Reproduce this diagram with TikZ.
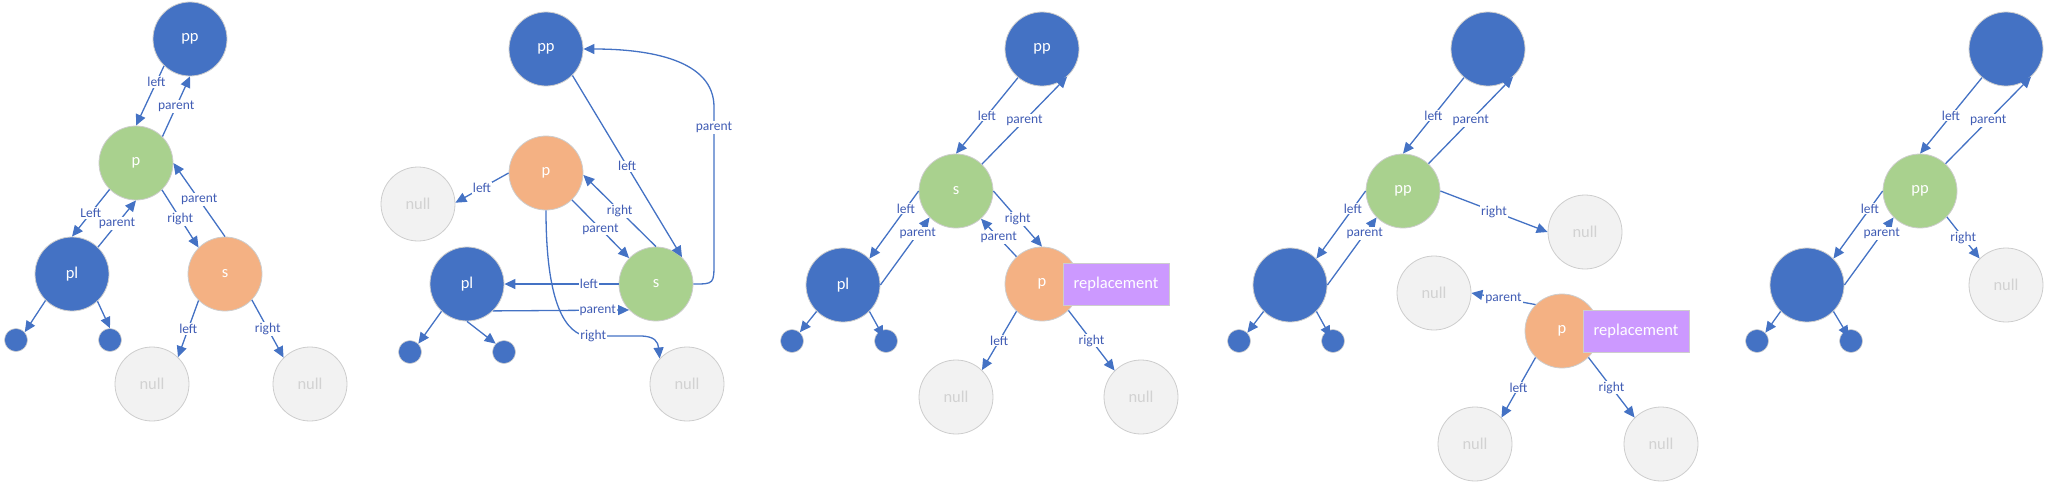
\documentclass[tikz,border=0pt]{standalone}
\usepackage{fontspec}
\setmainfont{Carlito}
\usetikzlibrary{arrows.meta}
\definecolor{nblue}{RGB}{68,114,196}
\definecolor{ngreen}{RGB}{169,209,142}
\definecolor{norange}{RGB}{244,177,131}
\definecolor{nnull}{RGB}{242,242,242}
\definecolor{nnulltext}{RGB}{210,210,210}
\definecolor{nborder}{RGB}{205,205,205}
\definecolor{npurple}{RGB}{204,153,255}
\definecolor{edgec}{RGB}{68,114,196}
\definecolor{labc}{RGB}{64,92,180}
\tikzset{
 tnode/.style={circle, minimum size=74pt, inner sep=0pt, draw=nborder, line width=0.8pt, font=\fontsize{16.5}{16.5}\selectfont, text=white},
 bluen/.style={tnode, fill=nblue},
 greenn/.style={tnode, fill=ngreen},
 orangen/.style={tnode, fill=norange},
 nulln/.style={tnode, fill=nnull, text=nnulltext},
 dotn/.style={circle, minimum size=23pt, inner sep=0pt, fill=nblue, draw=nborder, line width=0.6pt},
 repl/.style={rectangle, minimum width=106pt, minimum height=42pt, inner sep=0pt, fill=npurple, draw=nborder, line width=0.8pt, text=white, font=\fontsize{16.5}{16.5}\selectfont},
 arr/.style={draw=edgec, line width=1.3pt, -{Triangle[length=11pt,width=10pt]}},
 tear/.style={arr, shorten >=-7pt},
 lab/.style={fill=white, inner sep=1pt, text=labc, font=\fontsize{13.5}{13.5}\selectfont},
}
\begin{document}
\begin{tikzpicture}[x=1pt,y=-1pt]
\useasboundingbox (0,0) rectangle (2048,483);
% ---------- Panel A ----------
\node[bluen] (App) at (190,39) {pp};
\node[greenn] (Ap) at (136,163) {p};
\node[bluen] (Apl) at (72,274) {pl};
\node[orangen] (As) at (225,274) {s};
\node[dotn] (Ad1) at (16,340) {};
\node[dotn] (Ad2) at (110,340) {};
\node[nulln] (An1) at (152,384) {null};
\node[nulln] (An2) at (310,384) {null};
\draw[arr] (App.226) -- (Ap.90) node[lab,pos=.27]{left};
\draw[arr] (Ap.45) -- (App.270) node[lab,pos=.5]{parent};
\draw[arr] (Ap.225) -- (Apl.90) node[lab,pos=.5]{Left};
\draw[arr] (Apl.46) -- (Ap.270) node[lab,pos=.5]{parent};
\draw[arr] (Ap.314) -- (As.135) node[lab,pos=.5]{right};
\draw[arr] (As.90) -- (Ap.0) node[lab,pos=.5]{parent};
\draw[arr] (Apl.225) -- (Ad1.42);
\draw[arr] (Apl.313) -- (Ad2.90);
\draw[arr] (As.225) -- (An1.46) node[lab,pos=.5]{left};
\draw[arr] (As.316) -- (An2.135) node[lab,pos=.5]{right};
% ---------- Panel B ----------
\node[bluen] (Bpp) at (546,49) {pp};
\node[orangen] (Bp) at (546,173) {p};
\node[nulln] (Bnl) at (418,204) {null};
\node[bluen] (Bpl) at (467,284) {pl};
\node[greenn] (Bs) at (656,284) {s};
\node[dotn] (Bd1) at (410,352) {};
\node[dotn] (Bd2) at (504,352) {};
\node[nulln] (Bnb) at (687,384) {null};
\draw[arr] (Bpp.315) -- (Bs.46) node[lab,pos=.5]{left};
\draw[arr] (Bs.east) .. controls (714,284) .. (714,262) -- node[lab,pos=.87]{parent} (714,107) .. controls (714,60) and (650,49) .. (Bpp.east);
\draw[arr] (Bp.west) -- (Bnl.2) node[lab,pos=.5]{left};
\draw[arr] (Bs.90) -- (Bp.-3) node[lab,pos=.5]{right};
\draw[arr] (Bp.314) -- (Bs.136) node[lab,pos=.5]{parent};
\draw[arr] (Bs.west) -- (Bpl.east) node[lab,pos=.26]{left};
\draw[arr] (Bpl.314) -- (Bs.224) node[lab,pos=.77]{parent};
\draw[arr] (Bp.south) .. controls (546,290) and (560,330) .. (585,336) -- node[lab,pos=.15]{right} (640,336) .. controls (655,336) and (658,342) .. (Bnb.137);
\draw[arr] (Bpl.227) -- (Bd1.45);
\draw[arr] (Bpl.270) -- (Bd2.135);
% ---------- Panel C ----------
\node[bluen] (Cpp) at (1042,49) {pp};
\node[greenn] (Cs) at (956,191) {s};
\node[bluen] (Cpl) at (843,285) {pl};
\node[orangen] (Cp) at (1042,284) {p};
\node[repl] (Cr) at (1116,284) {replacement};
\node[nulln] (Cnl) at (956,397) {null};
\node[nulln] (Cnr) at (1141,397) {null};
\node[dotn] (Cd1) at (792,341) {};
\node[dotn] (Cd2) at (886,341) {};
\draw[arr] (Cpp.230) -- (Cs.90) node[lab,pos=.5]{left};
\draw[arr] (Cs.46) -- (Cpp.312) node[lab,pos=.5]{parent};
\draw[arr] (Cs.180) -- (Cpl.45) node[lab,pos=.26]{left};
\draw[arr] (Cpl.0) -- (Cs.225) node[lab,pos=.76]{parent};
\draw[arr] (Cs.0) -- (Cp.90) node[lab,pos=.5]{right};
\draw[arr] (Cp.133) -- (Cs.312) node[lab,pos=.5]{parent};
\draw[arr] (Cp.227) -- (Cnl.46) node[lab,pos=.5]{left};
\draw[arr] (Cp.315) -- (Cnr.135) node[lab,pos=.5]{right};
\draw[arr] (Cpl.225) -- (Cd1.48);
\draw[tear] (Cpl.315) -- (Cd2.120);
% ---------- Panel D ----------
\node[bluen] (Dt) at (1488,49) {};
\node[greenn] (Dpp) at (1403,191) {pp};
\node[bluen] (Db) at (1290,285) {};
\node[nulln] (Dnr) at (1585,232) {null};
\node[nulln] (Dnm) at (1434,293) {null};
\node[orangen] (Dp) at (1562,331) {p};
\node[repl] (Dr) at (1636,331) {replacement};
\node[nulln] (Dnbl) at (1475,444) {null};
\node[nulln] (Dnbr) at (1661,444) {null};
\node[dotn] (Dd1) at (1239,341) {};
\node[dotn] (Dd2) at (1333,341) {};
\draw[arr] (Dt.230) -- (Dpp.90) node[lab,pos=.5]{left};
\draw[arr] (Dpp.47) -- (Dt.312) node[lab,pos=.5]{parent};
\draw[arr] (Dpp.180) -- (Db.45) node[lab,pos=.26]{left};
\draw[arr] (Db.0) -- (Dpp.225) node[lab,pos=.76]{parent};
\draw[arr] (Dpp.0) -- (Dnr.180) node[lab,pos=.5]{right};
\draw[arr] (Dp.135) -- (Dnm.0) node[lab,pos=.5]{parent};
\draw[arr] (Dp.225) -- (Dnbl.45) node[lab,pos=.5]{left};
\draw[arr] (Dp.315) -- (Dnbr.135) node[lab,pos=.5]{right};
\draw[arr] (Db.225) -- (Dd1.45);
\draw[tear] (Db.315) -- (Dd2.120);
% ---------- Panel E ----------
\node[bluen] (Et) at (2006,49) {};
\node[greenn] (Epp) at (1920,191) {pp};
\node[bluen] (Eb) at (1807,285) {};
\node[nulln] (En) at (2006,285) {null};
\node[dotn] (Ed1) at (1757,341) {};
\node[dotn] (Ed2) at (1851,341) {};
\draw[arr] (Et.230) -- (Epp.90) node[lab,pos=.5]{left};
\draw[arr] (Epp.47) -- (Et.312) node[lab,pos=.5]{parent};
\draw[arr] (Epp.180) -- (Eb.45) node[lab,pos=.26]{left};
\draw[arr] (Eb.0) -- (Epp.225) node[lab,pos=.76]{parent};
\draw[arr] (Epp.316) -- (En.135) node[lab,pos=.5]{right};
\draw[arr] (Eb.225) -- (Ed1.45);
\draw[tear] (Eb.315) -- (Ed2.120);
\end{tikzpicture}
\end{document}
